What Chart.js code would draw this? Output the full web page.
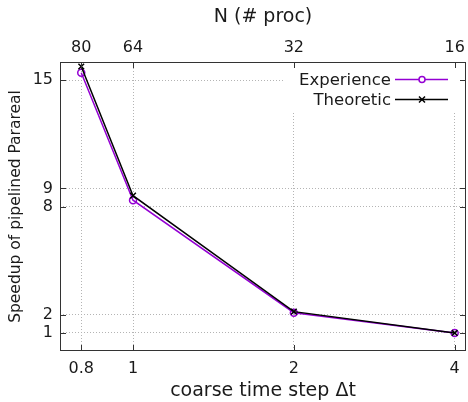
<!DOCTYPE html>
<html>
<head>
<meta charset="utf-8">
<script src="https://cdn.jsdelivr.net/npm/chart.js@4.4.1/dist/chart.umd.min.js"></script>
<style>
  html, body { margin: 0; padding: 0; background: #fff; }
</style>
</head>
<body>
<canvas id="speedupChart" width="468" height="402"></canvas>
<script>
// data
const stepValues = [0.8, 1, 2, 4];          // coarse time step (bottom axis)
const procLabels = ['80', '64', '32', '16']; // N (# proc) (top axis)
const experience = [15.4, 8.35, 2.12, 0.99];
const theoretic = [15.75, 8.6, 2.18, 1.0];
const yTicks = [1, 2, 8, 9, 15];

const textColor = '#1a1a1a';
const gridColor = '#b4b4b4';
const purple = '#9400d3';

Chart.defaults.font.family = 'DejaVu Sans';
Chart.defaults.color = textColor;

function toPoints(values) {
    return stepValues.map((x, i) => ({ x: x, y: values[i] }));
}

// gnuplot style frame, inward ticks and key
const framePlugin = {
    id: 'frame',
    afterDraw(chart) {
        const ctx = chart.ctx;
        const a = chart.chartArea;
        const xs = chart.scales.x;
        const ys = chart.scales.y;
        ctx.save();

        // opaque key background
        ctx.fillStyle = '#fff';
        ctx.fillRect(285, a.top + 1, a.right - 286, 48);

        // border
        ctx.strokeStyle = '#333';
        ctx.lineWidth = 1;
        ctx.strokeRect(a.left + 0.5, a.top + 0.5, a.right - a.left - 1, a.bottom - a.top - 1);

        // inward ticks
        const tl = 6;
        ctx.beginPath();
        stepValues.forEach(v => {
            const px = Math.round(xs.getPixelForValue(v)) + 0.5;
            ctx.moveTo(px, a.bottom); ctx.lineTo(px, a.bottom - tl);
            ctx.moveTo(px, a.top); ctx.lineTo(px, a.top + tl);
        });
        yTicks.forEach(v => {
            const py = Math.round(ys.getPixelForValue(v)) + 0.5;
            ctx.moveTo(a.left, py); ctx.lineTo(a.left + tl, py);
            ctx.moveTo(a.right, py); ctx.lineTo(a.right - tl, py);
        });
        ctx.stroke();

        // key
        const rows = [
            { ds: chart.data.datasets[1], y: 79.5 },
            { ds: chart.data.datasets[0], y: 99.5 }
        ];
        ctx.font = '16.5px "DejaVu Sans"';
        ctx.textAlign = 'right';
        ctx.textBaseline = 'middle';
        rows.forEach(r => {
            ctx.fillStyle = textColor;
            ctx.fillText(r.ds.label, 391, r.y + 1);
            ctx.strokeStyle = r.ds.borderColor;
            ctx.lineWidth = 1.5;
            ctx.beginPath();
            ctx.moveTo(395, r.y); ctx.lineTo(448, r.y);
            ctx.stroke();
            const mx = 422;
            ctx.beginPath();
            if (r.ds.pointStyle === 'circle') {
                ctx.fillStyle = '#fff';
                ctx.arc(mx, r.y, 3, 0, Math.PI * 2);
                ctx.fill();
            } else {
                ctx.moveTo(mx - 3, r.y - 3); ctx.lineTo(mx + 3, r.y + 3);
                ctx.moveTo(mx - 3, r.y + 3); ctx.lineTo(mx + 3, r.y - 3);
            }
            ctx.stroke();
        });
        ctx.restore();
    }
};

const ctx = document.getElementById('speedupChart').getContext('2d');
new Chart(ctx, {
    type: 'line',
    data: {
        datasets: [{
            label: 'Theoretic',
            data: toPoints(theoretic),
            borderColor: '#000',
            backgroundColor: '#000',
            borderWidth: 1.5,
            pointStyle: 'crossRot',
            pointRadius: 4,
            pointBorderWidth: 1.5,
            order: 0,
            clip: false
        }, {
            label: 'Experience',
            data: toPoints(experience),
            borderColor: purple,
            backgroundColor: 'rgba(0,0,0,0)',
            borderWidth: 1.5,
            pointStyle: 'circle',
            pointRadius: 3.5,
            pointBorderWidth: 1.5,
            order: 1,
            clip: false
        }]
    },
    options: {
        responsive: false,
        animation: false,
        layout: { autoPadding: false, padding: { left: 0, top: 0, right: 2, bottom: 0 } },
        plugins: {
            legend: { display: false },
            tooltip: { enabled: false }
        },
        scales: {
            x: {
                type: 'logarithmic',
                position: 'bottom',
                bounds: 'data',
                min: 0.73,
                max: 4.2,
                afterBuildTicks: s => { s.ticks = stepValues.map(v => ({ value: v })); },
                afterFit: s => { s.height = 51; s.paddingLeft = 0; s.paddingRight = 0; },
                ticks: {
                    autoSkip: false,
                    maxRotation: 0,
                    padding: 8,
                    font: { size: 16 },
                    callback: v => String(v)
                },
                grid: { color: gridColor, lineWidth: 1, drawTicks: false },
                border: { display: false, dash: [1, 2] },
                title: {
                    display: true,
                    text: 'coarse time step Δt',
                    font: { size: 19 },
                    padding: { top: 0, bottom: 0 }
                }
            },
            xTop: {
                type: 'logarithmic',
                position: 'top',
                bounds: 'data',
                min: 0.73,
                max: 4.2,
                afterBuildTicks: s => { s.ticks = stepValues.map(v => ({ value: v })); },
                afterFit: s => { s.height = 62; s.paddingLeft = 0; s.paddingRight = 0; },
                ticks: {
                    autoSkip: false,
                    maxRotation: 0,
                    padding: 5,
                    font: { size: 16 },
                    callback: (v, i) => procLabels[i]
                },
                grid: { display: false, drawTicks: false },
                border: { display: false },
                title: {
                    display: true,
                    text: 'N (# proc)',
                    font: { size: 19 },
                    padding: { top: 6, bottom: 0 }
                }
            },
            y: {
                type: 'linear',
                position: 'left',
                min: 0,
                max: 16,
                afterBuildTicks: s => { s.ticks = yTicks.map(v => ({ value: v })); },
                afterFit: s => { s.width = 60; s.paddingTop = 0; s.paddingBottom = 0; },
                ticks: {
                    padding: 7,
                    font: { size: 16 },
                    callback: v => String(v)
                },
                grid: { color: gridColor, lineWidth: 1, drawTicks: false },
                border: { display: false, dash: [1, 2] },
                title: {
                    display: true,
                    text: 'Speedup of pipelined Parareal',
                    font: { size: 15.5 },
                    padding: { top: 7, bottom: 0 }
                }
            }
        }
    },
    plugins: [framePlugin]
});
</script>
</body>
</html>
